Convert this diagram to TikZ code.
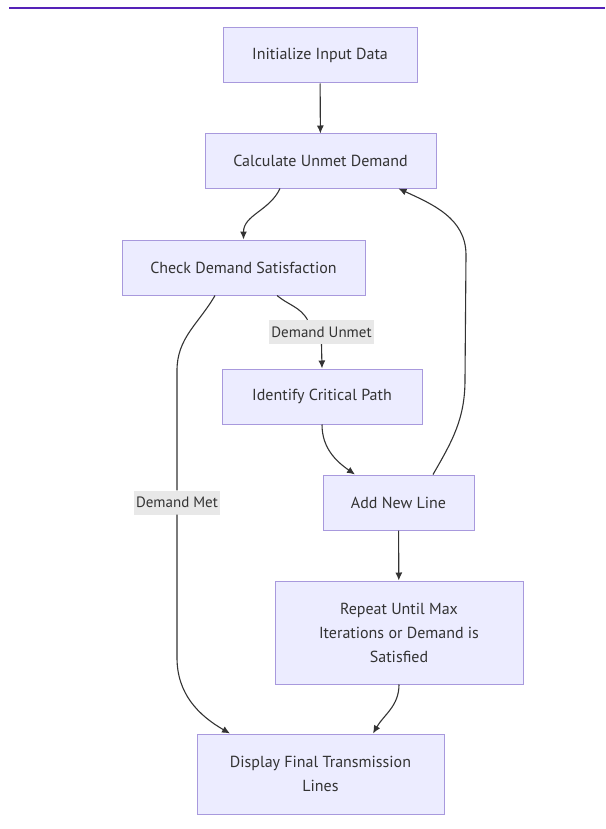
\documentclass[tikz,border=0pt]{standalone}
\usepackage{fontspec}
\setmainfont{PT Sans}
\usetikzlibrary{arrows.meta}
\definecolor{boxfill}{HTML}{ECECFF}
\definecolor{boxline}{HTML}{A899DD}
\definecolor{edgeline}{HTML}{333333}
\definecolor{lblfill}{HTML}{E8E8E8}
\definecolor{topline}{HTML}{5522B8}

\begin{document}
\begin{tikzpicture}[x=1pt,y=1pt,
  box/.style={draw=boxline,fill=boxfill,line width=1pt,text=edgeline,font=\fontsize{16}{24}\selectfont,align=center,inner sep=0pt},
  lbl/.style={fill=lblfill,text=edgeline,font=\fontsize{15}{18}\selectfont,inner xsep=2pt,inner ysep=0pt,minimum height=24pt},
  line/.style={draw=edgeline,line width=1.1pt},
  arr/.style={line,-{Latex[length=8pt,width=7pt]}}]
\useasboundingbox (0,0) rectangle (605,-829);
\draw[topline,line width=2.5pt] (9,-8) -- (605,-8);
\node[box,minimum width=194pt,minimum height=55pt] (init) at (320,-55.5) {Initialize Input Data};
\node[box,minimum width=231pt,minimum height=54pt] (calc) at (320.5,-161) {Calculate Unmet Demand};
\node[box,minimum width=243pt,minimum height=55pt] (check) at (243.5,-267.5) {Check Demand Satisfaction};
\node[box,minimum width=200pt,minimum height=55pt] (ident) at (322,-396.5) {Identify Critical Path};
\node[box,minimum width=151pt,minimum height=55pt] (addl) at (398.5,-502.5) {Add New Line};
\node[box,minimum width=248pt,minimum height=103pt] (rep) at (399,-632.5) {Repeat Until Max\\Iterations or Demand is\\Satisfied};
\node[box,minimum width=247pt,minimum height=80pt] (disp) at (320.5,-774) {Display Final Transmission\\Lines};
\node[lbl] (dunmet) at (321.5,-332) {Demand Unmet};
\node[lbl] (dmet) at (177,-502.5) {Demand Met};
\draw[arr] (init) -- (calc);
\draw[arr] ([xshift=-40.5]calc.south) to[out=-115,in=90] (check.north);
\draw[line] ([xshift=33.5]check.south) to[out=-40,in=120] ([xshift=-14]dunmet.north);
\draw[arr] (dunmet.south) -- (ident.north);
\draw[line] ([xshift=-28.5]check.south) to[out=-120,in=90] ++(-38,-75) -- (dmet.north);
\draw[arr] (dmet.south) -- ++(0,-143) to[out=-90,in=150] ([xshift=-90.5]disp.north);
\draw[arr] (ident.south) to[out=-90,in=145] ([xshift=-43.5]addl.north);
\draw[arr] ([xshift=34.5]addl.north) to[out=60,in=-90] ++(32,95) -- (466,-255) to[out=90,in=-25] ([xshift=78]calc.south);
\draw[arr] (addl) -- (rep);
\draw[arr] (rep.south) to[out=-90,in=60] ([xshift=52.5]disp.north);
\end{tikzpicture}
\end{document}
